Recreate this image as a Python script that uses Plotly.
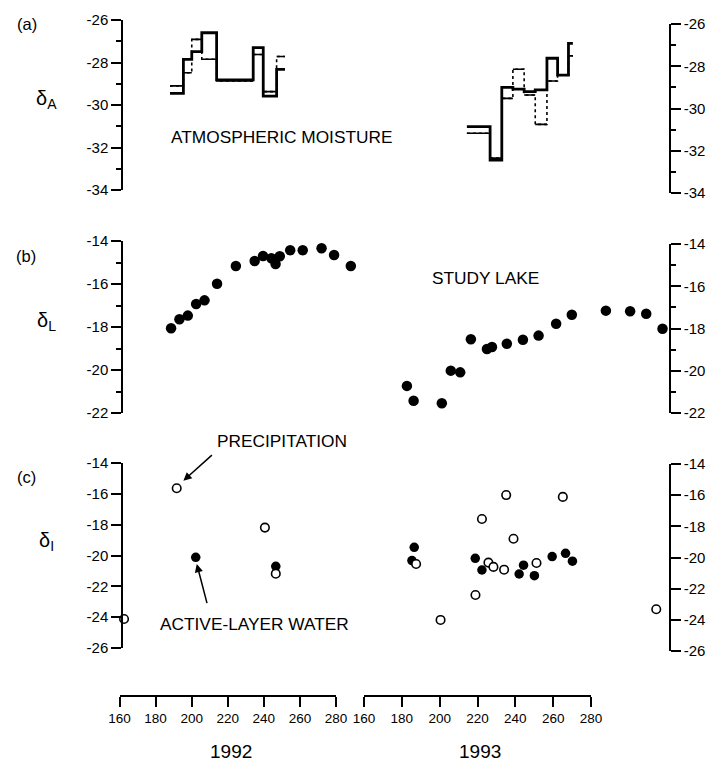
import plotly.graph_objects as go

# ---------------- data ----------------
# (a) atmospheric moisture, step series (interval edges in day of year, values per interval)
atm92_edges = [182.5, 188.9, 192.9, 197.7, 204.8, 222.3, 227.1, 233.5, 237.5]
atm92_s1 = [-29.45, -27.85, -27.49, -26.6, -28.82, -27.3, -29.58, -28.32]
atm92_s2 = [-29.1, -28.48, -26.91, -27.85, -28.87, -27.62, -29.37, -27.72]

atm93_edges = [183.3, 194.4, 200.0, 205.3, 210.7, 216.0, 221.6, 226.7, 231.9, 234.0]
atm93_s1 = [-31.02, -32.59, -29.17, -29.25, -29.37, -29.29, -27.8, -28.59, -27.1]
atm93_s2 = [-31.33, -32.5, -29.69, -28.32, -29.53, -30.91, -28.87, -28.59, -27.69]

# (b) study lake
lake92_day = [183, 187, 191, 195, 199, 205, 214, 223, 227, 231, 233, 235, 240, 246, 255, 261, 269]
lake92_val = [-18.06, -17.64, -17.47, -16.93, -16.76, -15.99, -15.16, -14.93, -14.70, -14.80,
              -15.07, -14.71, -14.43, -14.43, -14.34, -14.65, -15.16]
lake93_day = [154.6, 157.8, 171.3, 175.6, 180.1, 185.2, 192.9, 195.3, 202.4, 210.1, 217.6,
              226.0, 233.5, 249.8, 261.4, 269.1, 276.9]
lake93_val = [-20.74, -21.43, -21.55, -20.03, -20.11, -18.57, -19.02, -18.93, -18.78, -18.59,
              -18.40, -17.85, -17.43, -17.24, -17.27, -17.38, -18.08]

# (c) precipitation (open) and active-layer water (filled)
precip92_day = [160.5, 185.7, 227.9, 233.1]
precip92_val = [-24.12, -15.64, -18.19, -21.18]
active92_day = [194.8, 233.1]
active92_val = [-20.12, -20.70]

active93_day = [157.0, 158.1, 187.3, 190.5, 208.3, 210.4, 215.6, 224.1, 230.5, 233.8]
active93_val = [-20.33, -19.47, -20.18, -20.94, -21.20, -20.63, -21.31, -20.07, -19.86, -20.37]
precip93_day = [159.0, 170.7, 187.4, 190.5, 193.6, 196.0, 201.1, 202.1, 205.6, 216.6, 229.2, 273.9]
precip93_val = [-20.55, -24.18, -22.56, -17.63, -20.46, -20.74, -20.92, -16.08, -18.91, -20.49,
                -16.20, -23.49]

# tick labels
a_ticks = [-34, -32, -30, -28, -26]
a_ticktext = ["-34", "-32", "-30", "-28", "-26"]
a_minor = [-33, -31, -29, -27]
b_ticks = [-22, -20, -18, -16, -14]
b_ticktext = ["-22", "-20", "-18", "-16", "-14"]
b_minor = [-21, -19, -17, -15]
c_ticks = [-26, -24, -22, -20, -18, -16, -14]
c_ticktext = ["-26", "-24", "-22", "-20", "-18", "-16", "-14"]
day_ticks = [160, 180, 200, 220, 240, 260, 280]
day_ticktext = ["160", "180", "200", "220", "240", "260", "280"]
years = ["1992", "1993"]

# ---------------- layout helpers ----------------
W, H = 709, 763
FONT = "Liberation Sans, Arial, Helvetica, sans-serif"


def px(x):
    return x / W


def py(y):
    return 1 - y / H


def step_xy(edges, vals):
    return list(edges), list(vals) + [vals[-1]]


def horiz(edges, vals):
    xs, ys = [], []
    for i, v in enumerate(vals):
        xs += [edges[i], edges[i + 1], None]
        ys += [v, v, None]
    return xs, ys


fig = go.Figure()

# ---- panel (a)
for edges, s1, s2, xa in [(atm92_edges, atm92_s1, atm92_s2, "x"),
                          (atm93_edges, atm93_s1, atm93_s2, "x2")]:
    x, y = step_xy(edges, s2)
    fig.add_trace(go.Scatter(x=x, y=y, xaxis=xa, yaxis="y", mode="lines",
                             line=dict(color="black", width=1.6, dash="dot", shape="hv"),
                             cliponaxis=False, hoverinfo="skip"))
    hx, hy = horiz(edges, s2)
    fig.add_trace(go.Scatter(x=hx, y=hy, xaxis=xa, yaxis="y", mode="lines",
                             line=dict(color="black", width=1.6),
                             cliponaxis=False, hoverinfo="skip"))
    x, y = step_xy(edges, s1)
    fig.add_trace(go.Scatter(x=x, y=y, xaxis=xa, yaxis="y", mode="lines",
                             line=dict(color="black", width=2.8, shape="hv"),
                             cliponaxis=False))

# ---- panel (b)
for d, v, xa in [(lake92_day, lake92_val, "x"), (lake93_day, lake93_val, "x2")]:
    fig.add_trace(go.Scatter(x=d, y=v, xaxis=xa, yaxis="y2", mode="markers",
                             marker=dict(color="black", size=10.5, line=dict(width=0)),
                             cliponaxis=False))

# ---- panel (c)
for d, v, xa in [(active92_day, active92_val, "x"), (active93_day, active93_val, "x2")]:
    fig.add_trace(go.Scatter(x=d, y=v, xaxis=xa, yaxis="y3", mode="markers",
                             marker=dict(color="black", size=9.5, line=dict(width=0)),
                             cliponaxis=False))
for d, v, xa in [(precip92_day, precip92_val, "x"), (precip93_day, precip93_val, "x2")]:
    fig.add_trace(go.Scatter(x=d, y=v, xaxis=xa, yaxis="y3", mode="markers",
                             marker=dict(color="white", size=8.5,
                                         line=dict(color="black", width=1.6)),
                             cliponaxis=False))

# empty traces so that the right-hand and bottom axes get their subplots
for xa, ya in [("x2", "y4"), ("x2", "y5"), ("x2", "y6"), ("x3", "y10"), ("x4", "y10")]:
    fig.add_trace(go.Scatter(x=[None], y=[None], xaxis=xa, yaxis=ya, mode="markers",
                             hoverinfo="skip"))

# ---------------- axes ----------------
tickfont = dict(family=FONT, size=15, color="black")


def yax(domain, rng, tv, tt, anchor, side, minor=None):
    d = dict(domain=domain, range=rng, anchor=anchor, side=side, automargin=False,
             tickmode="array", tickvals=tv, ticktext=tt,
             showline=True, linecolor="black", linewidth=1.5,
             ticks="outside", ticklen=10, tickwidth=1.5, tickcolor="black",
             showgrid=False, zeroline=False, tickfont=tickfont, fixedrange=True)
    if minor:
        d["minor"] = dict(tickmode="array", tickvals=minor, ticks="outside",
                          ticklen=5, tickwidth=1.5, tickcolor="black", showgrid=False)
    return d


def xbottom(domain):
    return dict(domain=domain, range=[160, 280], anchor="y10", side="bottom",
                automargin=False,
                tickmode="array", tickvals=day_ticks, ticktext=day_ticktext,
                showline=True, linecolor="black", linewidth=1.5,
                ticks="outside", ticklen=10, tickwidth=1.5, tickcolor="black",
                showgrid=False, zeroline=False,
                tickfont=dict(family=FONT, size=13.5, color="black"), fixedrange=True)


fig.update_layout(
    template="none",
    width=W, height=H, autosize=False,
    margin=dict(l=0, r=0, t=0, b=0, pad=0),
    paper_bgcolor="white", plot_bgcolor="rgba(0,0,0,0)",
    showlegend=False,
    font=dict(family=FONT, color="black"),
    xaxis=dict(domain=[px(123), px(373.8)], range=[160, 280], visible=False,
               anchor="y", fixedrange=True, automargin=False),
    xaxis2=dict(domain=[px(397.3), px(669)], range=[150, 280], visible=False,
                anchor="y", fixedrange=True, automargin=False),
    xaxis3=xbottom([px(119.5), px(336)]),
    xaxis4=xbottom([px(364), px(591)]),
    yaxis=yax([py(190), py(20)], [-34, -26], a_ticks, a_ticktext, "x", "left", a_minor),
    yaxis2=yax([py(413), py(241)], [-22, -14], b_ticks, b_ticktext, "x", "left", b_minor),
    yaxis3=yax([py(648), py(463)], [-26, -14], c_ticks, c_ticktext, "x", "left"),
    yaxis4=yax([py(193), py(24)], [-34, -26], a_ticks, a_ticktext, "x2", "right", a_minor),
    yaxis5=yax([py(413), py(244)], [-22, -14], b_ticks, b_ticktext, "x2", "right", b_minor),
    yaxis6=yax([py(651), py(464)], [-26, -14], c_ticks, c_ticktext, "x2", "right"),
    yaxis10=dict(domain=[py(695), py(690)], range=[0, 1], visible=False,
                 anchor="x3", fixedrange=True, automargin=False),
)

# ---------------- annotations ----------------
ann = []


def txt(x, y, s, size, **kw):
    d = dict(x=px(x), y=py(y), xref="paper", yref="paper", text=s, showarrow=False,
             font=dict(family=FONT, size=size, color="black"),
             xanchor="center", yanchor="middle")
    d.update(kw)
    ann.append(d)


txt(27, 24, "(a)", 16.5)
txt(26, 256, "(b)", 16.5)
txt(26, 477, "(c)", 16.5)
txt(46, 99, "δ<sub>A</sub>", 20)
txt(46, 321, "δ<sub>L</sub>", 20)
txt(46, 541, "δ<sub>I</sub>", 20)
txt(281, 137, "ATMOSPHERIC MOISTURE", 17.3)
txt(485, 278, "STUDY LAKE", 17.3)
txt(282, 441, "PRECIPITATION", 17.3)
txt(254, 624, "ACTIVE-LAYER WATER", 17.3)
txt(231, 751, years[0], 19)
txt(480, 751, years[1], 19)

ann.append(dict(x=188.9, y=-15.15, xref="x", yref="y3", text="", showarrow=True,
                ax=30, ay=-27, arrowhead=2, arrowsize=1.1, arrowwidth=1.5,
                arrowcolor="black"))
ann.append(dict(x=195.3, y=-20.55, xref="x", yref="y3", text="", showarrow=True,
                ax=10.6, ay=40.7, arrowhead=2, arrowsize=1.1, arrowwidth=1.5,
                arrowcolor="black"))

fig.update_layout(annotations=ann)

fig.write_html("out.html",
               config={"displayModeBar": False, "responsive": False},
               post_script="document.body.style.margin='0';"
                           "document.body.style.overflow='hidden';")
